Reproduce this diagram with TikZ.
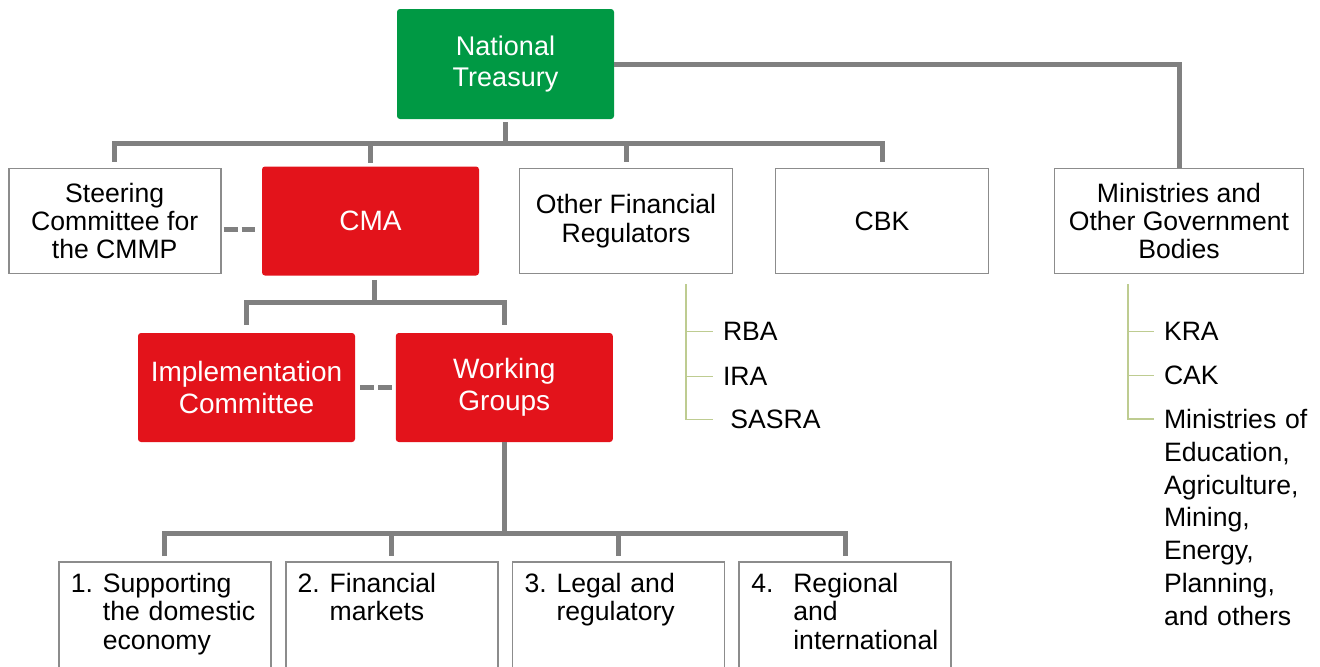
\documentclass[tikz,border=0pt]{standalone}
\usepackage{fontspec}
\setmainfont{Liberation Sans}
\usepackage{array}
\definecolor{TreasuryGreen}{RGB}{0, 153, 68}
\definecolor{CmaRed}{RGB}{227, 19, 27}
\definecolor{LinkGray}{RGB}{128, 128, 128}
\definecolor{EdgeGray}{RGB}{140, 140, 140}
\definecolor{ListGreen}{RGB}{190, 204, 145}
\usetikzlibrary{positioning, calc}

\newcommand{\wgtext}[3][16pt]{\begin{tabular}[t]{@{}p{#1}@{}p{78pt}@{}}#2 & #3\end{tabular}}

\begin{document}
\begin{tikzpicture}[
    whitebox/.style={draw=EdgeGray, line width=0.9pt, fill=white, minimum width=106pt, minimum height=52.5pt, align=center, inner sep=2pt, font=\fontsize{13.3}{14.2}\selectfont},
    redbox/.style={fill=CmaRed, text=white, rounded corners=1.5pt, minimum width=108.5pt, minimum height=54.5pt, align=center, inner sep=2pt, font=\fontsize{14}{15.8}\selectfont},
    greenbox/.style={redbox, fill=TreasuryGreen, minimum height=55pt, font=\fontsize{13.5}{15.3}\selectfont},
    wgbox/.style={whitebox, align=left, text width=94pt, inner xsep=6pt, inner ysep=0pt, minimum height=0pt, text height=15.2pt, text depth=40pt},
    subitem/.style={inner sep=0pt, align=left, font=\fontsize{13.3}{16.4}\selectfont},
    conn/.style={draw=LinkGray, line width=2.5pt},
    dashconn/.style={conn, dash pattern=on 7pt off 2pt},
    subline/.style={draw=ListGreen, line width=0.7pt}]
    \useasboundingbox (0,0) rectangle (660pt,-333pt);

    \node[greenbox] (nt) at (252.75pt,-32pt) {National\\Treasury};

    \node[redbox] (cma) at (185.25pt,-110.5pt) {CMA};
    \node[whitebox, left=20pt of cma] (steer) {Steering\\Committee for\\the CMMP};
    \node[whitebox, minimum width=106.5pt, right=19.6pt of cma] (ofr) {Other Financial\\Regulators};
    \node[whitebox, minimum width=106.5pt, right=20.6pt of ofr] (cbk) {CBK};
    \node[whitebox, minimum width=124.5pt, right=32.1pt of cbk] (mini) {Ministries and\\Other Government\\Bodies};

    \node[redbox] (impl) at (123.25pt,-193.75pt) {Implementation\\Committee};
    \node[redbox, right=20pt of impl] (wg) {Working\\Groups};

    \node[wgbox, anchor=north west] (wg1) at (29pt,-280.5pt) {\wgtext{1.}{Supporting\newline the domestic\newline economy}};
    \node[wgbox, right=6.5pt of wg1] (wg2) {\wgtext{2.}{Financial\newline markets}};
    \node[wgbox, right=6.5pt of wg2] (wg3) {\wgtext{3.}{Legal and\newline regulatory}};
    \node[wgbox, right=6.5pt of wg3] (wg4) {\wgtext[21pt]{4.}{Regional\newline and\newline international}};

    \coordinate (ofrtrunk) at ([xshift=83.75pt,yshift=-5pt]ofr.south west);
    \node[subitem, anchor=base west] (rba) at ([xshift=18.25pt,yshift=-28pt]ofrtrunk) {RBA};
    \node[subitem, anchor=base west] (ira) at ([yshift=-22.5pt]rba.base west) {IRA};
    \node[subitem, anchor=base west] (sasra) at ([yshift=-21.5pt]ira.base west) {\ SASRA};

    \coordinate (minitrunk) at ([xshift=37.2pt,yshift=-5pt]mini.south west);
    \node[subitem, anchor=base west] (kra) at ([xshift=17.8pt,yshift=-28pt]minitrunk) {KRA};
    \node[subitem, anchor=base west] (cak) at ([yshift=-22pt]kra.base west) {CAK};
    \node[subitem, text width=80pt, anchor=base west] (minis) at ([yshift=-22pt]cak.base west) {Ministries of\\Education,\\Agriculture,\\Mining,\\Energy,\\Planning,\\and others};

    \coordinate (ntbar) at ([yshift=-12pt]nt.south);
    \draw[conn] ([yshift=-1.5pt]nt.south) -- (ntbar);
    \draw[conn] ([yshift=3pt]steer.north) |- (ntbar -| cbk.north) -- ([yshift=3pt]cbk.north);
    \draw[conn] (ntbar -| cma.north) -- ([yshift=1.5pt]cma.north);
    \draw[conn] (ntbar -| ofr.north) -- ([yshift=3pt]ofr.north);
    \draw[conn] (nt.east) -| (mini.north);

    \coordinate (cmabar) at ([xshift=2pt,yshift=-13.25pt]cma.south);
    \draw[conn] ([xshift=2pt,yshift=-2pt]cma.south) -- (cmabar);
    \draw[conn] ([yshift=4pt]impl.north) |- (cmabar -| wg.north) -- ([yshift=4pt]wg.north);

    \coordinate (wgbar) at ([yshift=-45.5pt]wg.south);
    \draw[conn] (wg.south) -- (wgbar);
    \draw[conn] ([yshift=2.5pt]wg1.north) |- (wgbar -| wg4.north) -- ([yshift=2.5pt]wg4.north);
    \draw[conn] (wgbar -| wg2.north) -- ([yshift=2.5pt]wg2.north);
    \draw[conn] (wgbar -| wg3.north) -- ([yshift=2.5pt]wg3.north);

    \draw[dashconn] ([xshift=1pt,yshift=-4pt]steer.east) -- ([xshift=-3.5pt,yshift=-4pt]cma.west);
    \draw[dashconn] ([xshift=2.5pt]impl.east) -- ([xshift=-1.75pt]wg.west);

    \draw[subline] (ofrtrunk) |- ([xshift=-5pt]sasra.west);
    \draw[subline] (ofrtrunk |- rba.west) -- ([xshift=-5pt]rba.west);
    \draw[subline] (ofrtrunk |- ira.west) -- ([xshift=-5pt]ira.west);

    \draw[subline] (minitrunk) |- ([xshift=-4.75pt,yshift=4.7pt]minis.base west);
    \draw[subline] (minitrunk |- kra.west) -- ([xshift=-4.75pt]kra.west);
    \draw[subline] (minitrunk |- cak.west) -- ([xshift=-4.75pt]cak.west);
\end{tikzpicture}
\end{document}
